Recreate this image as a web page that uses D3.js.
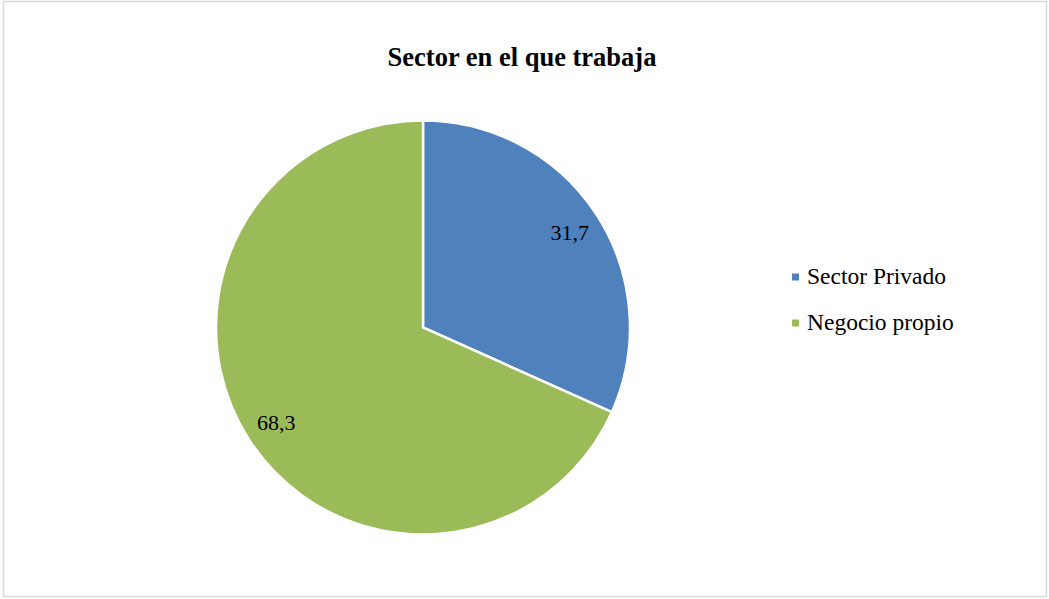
<!DOCTYPE html>
<html lang="es">
<head>
    <meta charset="UTF-8">
    <title>Sector en el que trabaja</title>
    <style>
        body { margin: 0; background: #fff; }
        svg { display: block; }
        .title { font-family: "Liberation Serif", "Times New Roman", serif; font-weight: bold; font-size: 26.5px; fill: #000; }
        .label { font-family: "Liberation Serif", "Times New Roman", serif; font-size: 22px; fill: #000; }
        .legend text { font-family: "Liberation Serif", "Times New Roman", serif; font-size: 23.5px; fill: #000; }
    </style>
    <script src="https://cdn.jsdelivr.net/npm/d3@7"></script>
</head>
<body>
<script>
    const categories = ["Sector Privado", "Negocio propio"];
    const values = [31.7, 68.3];
    const colors = ["#4f81bd", "#9bbb59"];

    const width = 1049, height = 599;
    const svg = d3.select("body").append("svg")
        .attr("width", width).attr("height", height);

    // outer frame
    svg.append("rect")
        .attr("x", 3.5).attr("y", 1.5)
        .attr("width", width - 6).attr("height", height - 4)
        .attr("fill", "#fff").attr("stroke", "#d9d9d9").attr("stroke-width", 1.5);

    svg.append("text").attr("class", "title")
        .attr("x", 522).attr("y", 66)
        .attr("text-anchor", "middle")
        .text("Sector en el que trabaja");

    const data = categories.map((c, i) => ({ name: c, value: values[i], color: colors[i] }));
    const radius = 207;
    const pie = d3.pie().value(d => d.value).sort(null);
    const arc = d3.arc().innerRadius(0).outerRadius(radius);
    const labelArc = d3.arc().innerRadius(radius * 0.845).outerRadius(radius * 0.845);

    const g = svg.append("g").attr("transform", "translate(423,327.5)");
    const slices = g.selectAll(".slice").data(pie(data)).enter().append("g");
    slices.append("path")
        .attr("d", arc)
        .attr("fill", d => d.data.color)
        .attr("stroke", "#fff").attr("stroke-width", 2.5);

    const fmt = v => v.toFixed(1).replace(".", ",");
    slices.append("text").attr("class", "label")
        .attr("transform", d => `translate(${labelArc.centroid(d)})`)
        .attr("text-anchor", "middle")
        .attr("dy", "0.33em")
        .text(d => fmt(d.data.value));

    const legend = svg.append("g").attr("class", "legend")
        .attr("transform", "translate(792,277)");
    const items = legend.selectAll("g").data(data).enter().append("g")
        .attr("transform", (d, i) => `translate(0,${i * 46})`);
    items.append("rect")
        .attr("x", 0).attr("y", -3.5).attr("width", 7).attr("height", 7)
        .attr("fill", d => d.color);
    items.append("text")
        .attr("x", 15).attr("y", 7)
        .text(d => d.name);
</script>
</body>
</html>
